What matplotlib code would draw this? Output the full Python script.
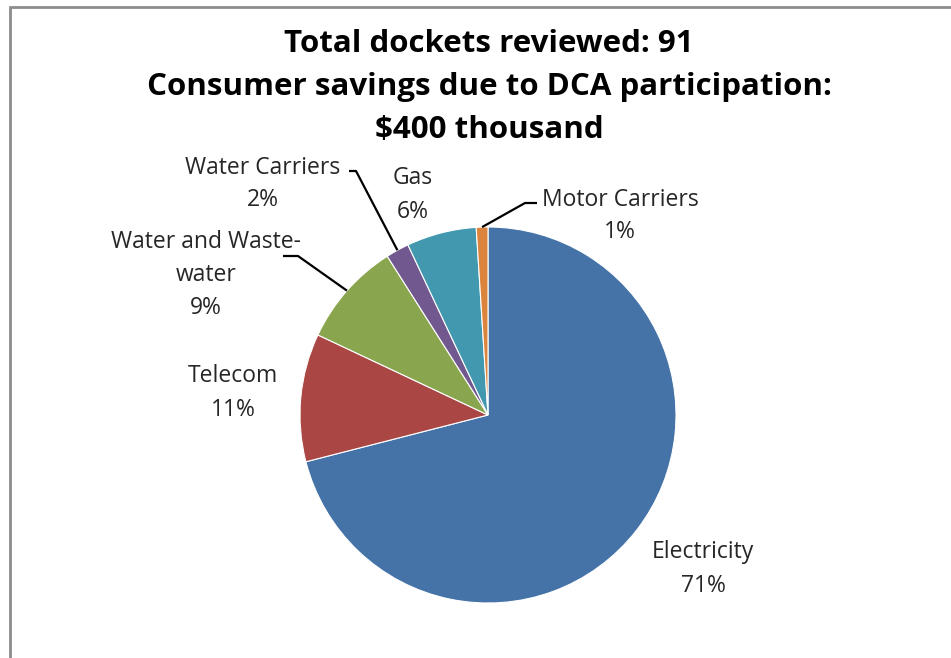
import numpy as np
import matplotlib.pyplot as plt
from matplotlib.patches import Rectangle

# data
categories = ["Electricity", "Telecom", "Water and Waste-\nwater", "Water Carriers", "Gas", "Motor Carriers"]
shares = [71, 11, 9, 2, 6, 1]
colors = ["#4572A7", "#AA4643", "#89A54E", "#71588F", "#4198AF", "#DB843D"]
title_lines = ["Total dockets reviewed: 91",
               "Consumer savings due to DCA participation:",
               "$400 thousand"]

W, H = 951, 658
FONT = "Open Sans"

fig = plt.figure(figsize=(W / 100, H / 100), dpi=100)
ax = fig.add_axes([0, 0, 1, 1])

# chart border (cut off at right/bottom like the screenshot)
ax.add_patch(Rectangle((10, -20), W + 20, H - 7 + 20, fill=False,
                       edgecolor="#8c8c8c", lw=2))

cx, cy, r = 488, H - 415, 188
ax.pie(shares, colors=colors, startangle=90, counterclock=False,
       center=(cx, cy), radius=r, frame=True,
       wedgeprops=dict(edgecolor="white", linewidth=0.8))
ax.set_xlim(0, W)
ax.set_ylim(0, H)
ax.set_axis_off()

# label text positions (pixel coords, y from top)
label_pos = {
    "Electricity": (703, 569),
    "Telecom": (233, 393),
    "Water and Waste-\nwater": (206, 275),
    "Water Carriers": (263, 184),
    "Gas": (413, 195),
    "Motor Carriers": (620, 216),
}
# leader lines: (text-side start, elbow) in pixel coords
leaders = {
    "Water and Waste-\nwater": ((283, 256), (298, 256)),
    "Water Carriers": ((349, 171), (356, 171)),
    "Motor Carriers": ((537, 203), (525, 203)),
}

total = sum(shares)
cum = np.cumsum([0] + shares)
for name, s, c0 in zip(categories, shares, cum[:-1]):
    x, y = label_pos[name]
    ax.text(x, H - y, f"{name}\n{s / total:.0%}", ha="center", va="center",
            fontsize=16.5, family=FONT, color="#262626", linespacing=1.5)
    if name in leaders:
        mid = (c0 + s / 2) / total
        ang = np.deg2rad(90 - 360 * mid)
        ex, ey = cx + r * np.cos(ang), cy + r * np.sin(ang)
        (sx, sy), (bx, by) = leaders[name]
        ax.plot([sx, bx, ex], [H - sy, H - by, ey], color="black", lw=1.6,
                solid_capstyle="butt")

for i, line in enumerate(title_lines):
    ax.text(489, H - (44 + 43 * i), line, ha="center", va="center",
            fontsize=22.5, fontweight="bold", family=FONT, color="black")

fig.savefig("out.png", dpi=100)
